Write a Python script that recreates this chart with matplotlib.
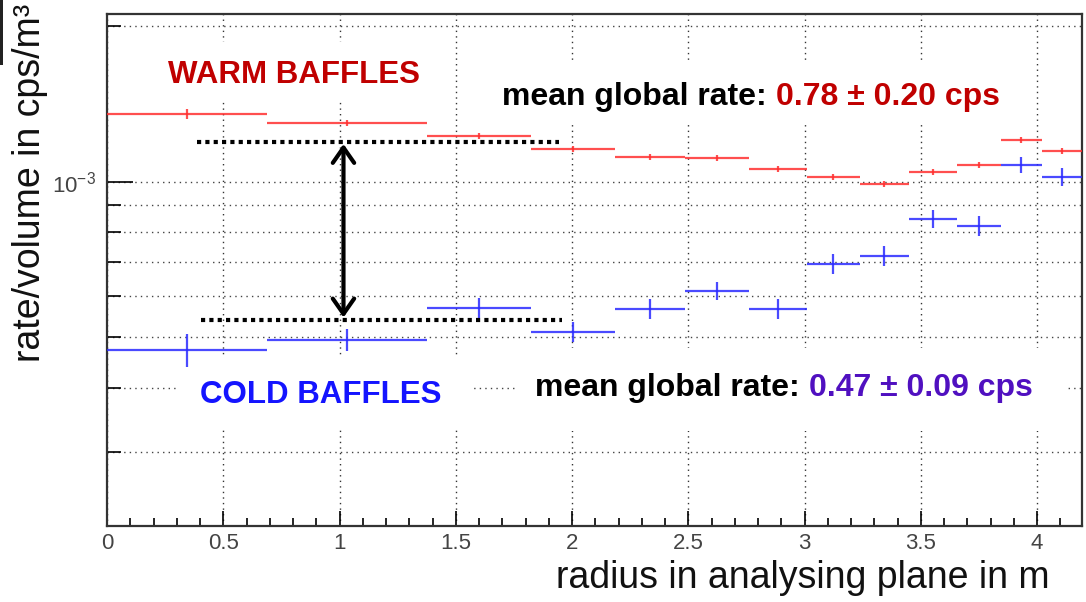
import numpy as np
import matplotlib
matplotlib.use('Agg')
import matplotlib.pyplot as plt
from matplotlib.patches import Rectangle
from matplotlib.ticker import FixedLocator, NullFormatter

plt.rcParams['font.family'] = ['Liberation Sans', 'DejaVu Sans']
plt.rcParams['mathtext.fontset'] = 'custom'
plt.rcParams['mathtext.rm'] = 'Liberation Sans'

# bin edges (radius, m)
bin_edges = [0.0, 0.686, 1.378, 1.822, 2.184, 2.485, 2.760, 3.010,
             3.238, 3.449, 3.655, 3.844, 4.021, 4.193]

# warm baffles rate/volume (cps/m^3)
warm_rate = [1.353e-3, 1.300e-3, 1.227e-3, 1.158e-3, 1.118e-3, 1.113e-3, 1.059e-3,
             1.022e-3, 0.991e-3, 1.045e-3, 1.079e-3, 1.206e-3, 1.148e-3]
warm_err = [0.030e-3, 0.018e-3, 0.016e-3, 0.016e-3, 0.014e-3, 0.014e-3, 0.014e-3,
            0.014e-3, 0.014e-3, 0.014e-3, 0.014e-3, 0.016e-3, 0.016e-3]

# cold baffles rate/volume (cps/m^3)
cold_rate = [0.473e-3, 0.495e-3, 0.571e-3, 0.513e-3, 0.568e-3, 0.615e-3, 0.568e-3,
             0.694e-3, 0.719e-3, 0.848e-3, 0.822e-3, 1.079e-3, 1.022e-3]
cold_err = [0.035e-3, 0.025e-3, 0.026e-3, 0.023e-3, 0.026e-3, 0.025e-3, 0.026e-3,
            0.031e-3, 0.032e-3, 0.034e-3, 0.035e-3, 0.039e-3, 0.041e-3]

# reference levels for the dotted lines / arrow
warm_level = 1.195e-3
cold_level = 0.541e-3

edges = np.array(bin_edges)
centers = (edges[:-1] + edges[1:]) / 2
half_w = (edges[1:] - edges[:-1]) / 2

fig = plt.figure(figsize=(10.86, 6.02), dpi=100)
ax = fig.add_axes([107/1086, 1 - 526/602, 975/1086, 512/602])

ax.set_yscale('log')
ax.set_xlim(0, 4.193)
ax.set_ylim(2.16e-4, 2.11e-3)

# ticks
ax.set_xticks(np.arange(0, 4.01, 0.5))
ax.set_xticklabels(['0', '0.5', '1', '1.5', '2', '2.5', '3', '3.5', '4'])
ax.xaxis.set_minor_locator(FixedLocator(np.arange(0, 4.2, 0.1)))
ax.yaxis.set_major_locator(FixedLocator([1e-3]))
ax.set_yticklabels([r'$10^{-3}$'])
ax.yaxis.set_minor_locator(FixedLocator([3e-4, 4e-4, 5e-4, 6e-4, 7e-4, 8e-4, 9e-4, 2e-3]))
ax.yaxis.set_minor_formatter(NullFormatter())

ax.tick_params(axis='x', which='major', direction='in', length=11, width=1.2,
               labelsize=16, labelcolor='#444444', pad=5, top=False)
ax.tick_params(axis='x', which='minor', direction='in', length=6, width=1.2, top=False)
ax.tick_params(axis='y', which='major', direction='in', length=19, width=1.2,
               labelsize=16, labelcolor='#444444', pad=8, right=False)
ax.tick_params(axis='y', which='minor', direction='in', length=10, width=1.2, right=False)

for s in ax.spines.values():
    s.set_linewidth(1.6)
    s.set_color('#333333')

ax.set_axisbelow(True)
ax.grid(axis='x', which='major', color='#333333', linestyle=(0, (1, 3)), linewidth=1.0)
ax.grid(axis='y', which='both', color='#444444', linestyle=(0, (1, 3)), linewidth=1.0)

# white boxes behind the texts (hide the grid there)
boxes = [(0.044, 0.832, 0.308, 0.113),
         (0.393, 0.783, 0.533, 0.123),
         (0.073, 0.188, 0.300, 0.146),
         (0.418, 0.186, 0.565, 0.162)]
for bx, by, bw, bh in boxes:
    ax.add_patch(Rectangle((bx, by), bw, bh, transform=ax.transAxes,
                           facecolor='white', edgecolor='none', zorder=1))

# data
ax.errorbar(centers, warm_rate, xerr=half_w, yerr=warm_err, fmt='none',
            ecolor='#ff3030', elinewidth=1.6, capsize=0, alpha=0.85, zorder=3)
ax.errorbar(centers, cold_rate, xerr=half_w, yerr=cold_err, fmt='none',
            ecolor='#2a2aff', elinewidth=1.6, capsize=0, alpha=0.85, zorder=3)

# dotted reference lines and double arrow
ax.plot([0.385, 1.942], [warm_level, warm_level], color='black', lw=3,
        linestyle=(0, (1, 1)), zorder=4)
ax.plot([0.406, 1.955], [cold_level, cold_level], color='black', lw=3,
        linestyle=(0, (1, 1)), zorder=4)
ax.annotate('', xy=(1.017, warm_level * 0.99), xytext=(1.017, cold_level * 1.01),
            arrowprops=dict(arrowstyle='<->,head_length=0.5,head_width=0.35',
                            lw=3, color='black', mutation_scale=22,
                            shrinkA=0, shrinkB=0), zorder=5)

# texts
red_txt = '#c00000'
blue_txt = '#1414ff'
purple_txt = '#5010c0'
fig.text(168/1086, 1 - 75/602, 'WARM BAFFLES', color=red_txt, fontsize=22.5,
         fontweight='bold', ha='left', va='center')
t1 = fig.text(502/1086, 1 - 97/602, 'mean global rate: ', color='black', fontsize=23,
              fontweight='bold', ha='left', va='center')
fig.canvas.draw()
ax.annotate('0.78 ± 0.20 cps', xy=(1, 0.5), xycoords=t1, color=red_txt, fontsize=23,
            fontweight='bold', ha='left', va='center', annotation_clip=False)

fig.text(200/1086, 1 - 395/602, 'COLD BAFFLES', color=blue_txt, fontsize=22.5,
         fontweight='bold', ha='left', va='center')
t2 = fig.text(535/1086, 1 - 388/602, 'mean global rate: ', color='black', fontsize=23,
              fontweight='bold', ha='left', va='center')
ax.annotate('0.47 ± 0.09 cps', xy=(1, 0.5), xycoords=t2, color=purple_txt, fontsize=23,
            fontweight='bold', ha='left', va='center', annotation_clip=False)

# axis titles
fig.text(1050/1086, 1 - 578/602, 'radius in analysing plane in m', fontsize=27,
         ha='right', va='center', color='#111111')
fig.text(30/1086, 1 - 183/602, 'rate/volume in cps/m³', fontsize=27,
         rotation=90, ha='center', va='center', color='#111111')

# dark strip at the top-left edge of the original picture
fig.patches.append(Rectangle((0, 1 - 65/602), 3/1086, 65/602, transform=fig.transFigure,
                             facecolor='#222222', edgecolor='none'))

fig.savefig('out.png', dpi=100)
plt.close()
